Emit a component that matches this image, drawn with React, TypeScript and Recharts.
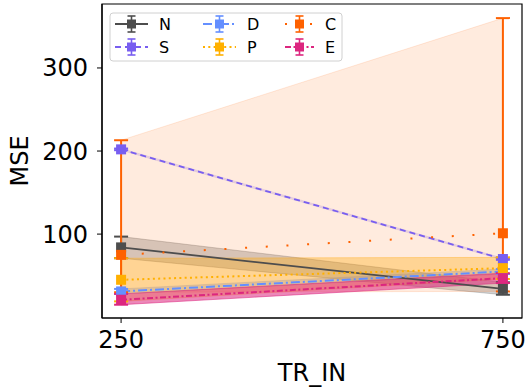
import React from "react";
import {
  ComposedChart,
  Line,
  Area,
  XAxis,
  YAxis,
  ErrorBar,
  ReferenceArea,
  Label,
} from "recharts";

const trIn = [250, 750];

const nMean = [84, 34];
const nLow = [71, 27];
const nHigh = [97, 42];

const sMean = [202, 70];
const sLow = [201, 69];
const sHigh = [203, 71];

const dMean = [31, 55];
const dLow = [28, 52];
const dHigh = [34, 58];

const pMean = [45, 59];
const pLow = [19, 46];
const pHigh = [71, 72];

const cMean = [75, 101];
const cLow = [30, 31];
const cHigh = [213, 360];

const eMean = [21, 47];
const eLow = [15, 41];
const eHigh = [28, 53];

const xTicks = [250, 750];
const yTicks = [100, 200, 300];

const FONT = "'DejaVu Sans', sans-serif";

const series = [
  { key: "N", color: "#4d4d4d", dash: undefined, width: 1.8, band: 0.25, mean: nMean, low: nLow, high: nHigh },
  { key: "S", color: "#785ef0", dash: "6 4", width: 1.8, band: 0.15, mean: sMean, low: sLow, high: sHigh },
  { key: "D", color: "#648fff", dash: "9 3 2 3", width: 2, band: 0.3, mean: dMean, low: dLow, high: dHigh },
  { key: "P", color: "#ffb000", dash: "2 3.3", width: 2, band: 0.33, mean: pMean, low: pLow, high: pHigh },
  { key: "C", color: "#fe6100", dash: "2 18.7", width: 2, band: 0.13, mean: cMean, low: cLow, high: cHigh },
  { key: "E", color: "#dc267f", dash: "6 2.5 2 2.5", width: 2, band: 0.55, mean: eMean, low: eLow, high: eHigh },
];

const data = trIn.map((x, i) => {
  const row: Record<string, any> = { x };
  series.forEach((s) => {
    row[s.key] = s.mean[i];
    row[s.key + "_band"] = [s.low[i], s.high[i]];
    row[s.key + "_err"] = [s.mean[i] - s.low[i], s.high[i] - s.mean[i]];
  });
  return row;
});

const squareDot = (color: string) => (props: any) => {
  const { cx, cy, index } = props;
  if (cx == null || cy == null) return <g key={index} />;
  return <rect key={index} x={cx - 5} y={cy - 5} width={10} height={10} fill={color} />;
};

// legend: 2 rows, 3 columns (column-major like matplotlib)
const legendCols = [
  { x: 0, items: ["N", "S"] },
  { x: 88, items: ["D", "P"] },
  { x: 170, items: ["C", "E"] },
];

function LegendBox() {
  return (
    <svg
      width={234}
      height={50}
      style={{ position: "absolute", left: 109, top: 12 }}
    >
      <rect x={1} y={1} width={232} height={48} rx={3} fill="#fff" fillOpacity={0.85} stroke="#d0d0d0" />
      {legendCols.map((col) =>
        col.items.map((k, r) => {
          const s = series.find((q) => q.key === k)!;
          const y = 12 + r * 23;
          const x0 = 6 + col.x;
          const len = col.x === 170 ? 29 : 33;
          const cx = x0 + len / 2;
          return (
            <g key={k}>
              <line
                x1={x0}
                x2={x0 + len}
                y1={y}
                y2={y}
                stroke={s.color}
                strokeWidth={s.width}
                strokeDasharray={k === "C" ? "2 10.5" : s.dash}
              />
              <line x1={cx} x2={cx} y1={y - 8} y2={y + 8} stroke={s.color} strokeWidth={1.6} />
              <line x1={cx - 4} x2={cx + 4} y1={y - 8} y2={y - 8} stroke={s.color} strokeWidth={1.6} />
              <line x1={cx - 4} x2={cx + 4} y1={y + 8} y2={y + 8} stroke={s.color} strokeWidth={1.6} />
              <rect x={cx - 4.5} y={y - 4.5} width={9} height={9} fill={s.color} />
              <text x={x0 + len + 11} y={y + 6} fontSize={16} fontFamily={FONT} fill="#000">
                {k}
              </text>
            </g>
          );
        })
      )}
    </svg>
  );
}

export default function App() {
  return (
    <div style={{ position: "absolute", left: 0, top: 0, width: 527, height: 390, background: "#fff" }}>
      <ComposedChart
        width={527}
        height={390}
        data={data}
        margin={{ top: 4, right: 5, left: 0, bottom: 0 }}
      >
        <XAxis
          dataKey="x"
          type="number"
          domain={[225, 775]}
          ticks={xTicks}
          height={72}
          tickSize={5}
          tickMargin={8}
          tick={{ fontSize: 24, fill: "#000", fontFamily: FONT }}
          stroke="#000"
          axisLine={{ stroke: "#000", strokeWidth: 1.2 }}
          tickLine={{ stroke: "#000" }}
        >
          <Label
            content={() => (
              <text x={312} y={381} textAnchor="middle" fontSize={24} fontFamily={FONT} fill="#000">
                TR_IN
              </text>
            )}
          />
        </XAxis>
        <YAxis
          type="number"
          domain={[-1, 377]}
          ticks={yTicks}
          width={102}
          tickSize={5}
          tickMargin={9}
          tick={{ fontSize: 24, fill: "#000", fontFamily: FONT }}
          axisLine={{ stroke: "#000", strokeWidth: 1.2 }}
          tickLine={{ stroke: "#000" }}
          allowDataOverflow
        >
          <Label
            content={() => (
              <text
                x={0}
                y={0}
                transform="translate(28 161) rotate(-90)"
                textAnchor="middle"
                fontSize={24}
                fontFamily={FONT}
                fill="#000"
              >
                MSE
              </text>
            )}
          />
        </YAxis>
        {series.map((s) => (
          <Area
            key={s.key + "_band"}
            dataKey={s.key + "_band"}
            type="linear"
            fill={s.color}
            fillOpacity={s.band}
            stroke={s.color}
            strokeOpacity={s.band}
            strokeWidth={1}
            dot={false}
            activeDot={false}
            isAnimationActive={false}
          />
        ))}
        {series.map((s) => (
          <Line
            key={s.key}
            dataKey={s.key}
            type="linear"
            stroke={s.color}
            strokeWidth={s.width}
            strokeDasharray={s.dash}
            dot={squareDot(s.color)}
            activeDot={false}
            isAnimationActive={false}
          >
            <ErrorBar
              dataKey={s.key + "_err"}
              direction="y"
              width={7}
              stroke={s.color}
              strokeWidth={2}
            />
          </Line>
        ))}
        <ReferenceArea
          x1={225}
          x2={775}
          y1={-1}
          y2={377}
          fill="none"
          stroke="#000"
          strokeWidth={1.2}
          ifOverflow="visible"
        />
      </ComposedChart>
      <LegendBox />
    </div>
  );
}
